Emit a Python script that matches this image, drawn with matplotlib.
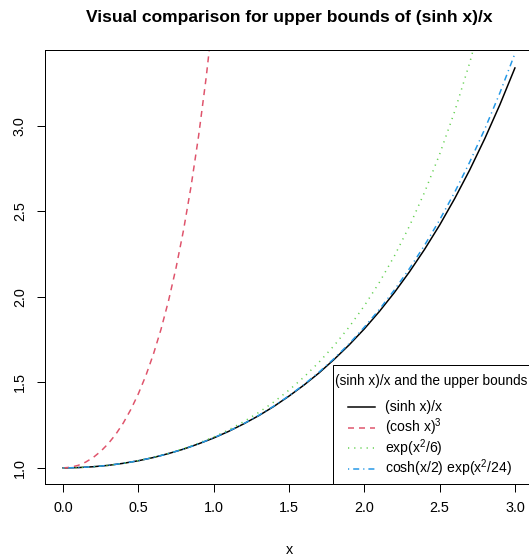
import matplotlib
matplotlib.use("Agg")
import matplotlib.pyplot as plt
from matplotlib.lines import Line2D
from matplotlib.patches import Rectangle

plt.rcParams['font.family'] = ['Liberation Sans', 'DejaVu Sans']
plt.rcParams['mathtext.fontset'] = 'custom'
plt.rcParams['mathtext.rm'] = 'Liberation Sans'
plt.rcParams['mathtext.it'] = 'Liberation Sans'
plt.rcParams['lines.scale_dashes'] = False

# ---- data ----
x_main = [0.0, 0.1, 0.2, 0.3, 0.4, 0.5, 0.6, 0.7, 0.8, 0.9, 1.0, 1.1, 1.2, 1.3, 1.4, 1.5,
          1.6, 1.7, 1.8, 1.9, 2.0, 2.1, 2.2, 2.3, 2.4, 2.5, 2.6, 2.7, 2.8, 2.9, 3.0]
sinhx_over_x = [1.000, 1.002, 1.007, 1.015, 1.027, 1.042, 1.061, 1.084, 1.110, 1.141, 1.175,
                1.214, 1.258, 1.306, 1.360, 1.420, 1.485, 1.556, 1.635, 1.720, 1.813,
                1.915, 2.026, 2.147, 2.278, 2.420, 2.575, 2.743, 2.926, 3.124, 3.339]
exp_x2_6 = [1.000, 1.002, 1.007, 1.015, 1.027, 1.043, 1.062, 1.085, 1.113, 1.145, 1.181,
            1.223, 1.271, 1.325, 1.386, 1.455, 1.532, 1.619, 1.716, 1.825, 1.948,
            2.085, 2.240, 2.415, 2.612, 2.834, 3.085, 3.370, 3.694, 4.062, 4.482]
cosh_half_exp = [1.000, 1.002, 1.007, 1.015, 1.027, 1.042, 1.061, 1.084, 1.110, 1.141, 1.176,
                 1.215, 1.259, 1.308, 1.362, 1.422, 1.488, 1.561, 1.640, 1.727, 1.823,
                 1.927, 2.041, 2.166, 2.302, 2.450, 2.612, 2.789, 2.982, 3.193, 3.423]
x_cosh3 = [0.0, 0.05, 0.1, 0.15, 0.2, 0.25, 0.3, 0.35, 0.4, 0.45, 0.5, 0.55, 0.6, 0.65,
           0.7, 0.75, 0.8, 0.85, 0.9, 0.95, 1.0]
cosh_cubed = [1.000, 1.004, 1.015, 1.034, 1.061, 1.097, 1.142, 1.197, 1.263, 1.342, 1.434,
              1.541, 1.666, 1.810, 1.977, 2.170, 2.392, 2.648, 2.943, 3.283, 3.674]

legend_title = "(sinh x)/x and the upper bounds"
legend_labels = ["(sinh x)/x", r"(cosh x)$^\mathrm{3}$", r"exp(x$^\mathrm{2}$/6)",
                 r"cosh(x/2) exp(x$^\mathrm{2}$/24)"]
x_ticks = [0.0, 0.5, 1.0, 1.5, 2.0, 2.5, 3.0]
y_ticks = [1.0, 1.5, 2.0, 2.5, 3.0]

# ---- figure ----
W, H = 529, 557
fig = plt.figure(figsize=(W / 72, H / 72), dpi=72)

def fx(px):
    return px / W

def fy(py):
    return 1 - py / H

L, R, T, B = 45, 533, 50, 484
ax = fig.add_axes([fx(L), fy(B), fx(R) - fx(L), fy(T) - fy(B)])

red = "#DF536B"
green = "#61D04F"
blue = "#2297E6"
lw = 1.5
styles = [
    dict(color="black", linestyle="-"),
    dict(color=red, dashes=(6, 5)),
    dict(color=green, dashes=(1.2, 5)),
    dict(color=blue, dashes=(1.2, 4, 6, 4)),
]

ax.plot(x_main, sinhx_over_x, lw=lw, **styles[0])
ax.plot(x_cosh3, cosh_cubed, lw=lw, **styles[1])
ax.plot(x_main, exp_x2_6, lw=lw, **styles[2])
ax.plot(x_main, cosh_half_exp, lw=lw, **styles[3])

ax.set_xlim(-0.12, 3.12)
ax.set_ylim(0.906, 3.444)
ax.set_xticks(x_ticks)
ax.set_xticklabels([f"{v:.1f}" for v in x_ticks])
ax.set_yticks(y_ticks)
ax.set_yticklabels([f"{v:.1f}" for v in y_ticks], rotation=90, va="center")
ax.tick_params(axis="both", direction="out", length=8, width=1, labelsize=14.4,
               colors="black")
ax.tick_params(axis="x", pad=9.5)
ax.tick_params(axis="y", pad=10)
for s in ax.spines.values():
    s.set_linewidth(1)
    s.set_color("black")

fig.text(fx(289), fy(22), "Visual comparison for upper bounds of (sinh x)/x",
         ha="center", va="baseline", fontsize=17.4, fontweight="bold")
fig.text(fx(289), fy(554), "x", ha="center", va="baseline", fontsize=14.4)

# ---- legend (R style) ----
lx0, ly0 = 333, 365
fig.add_artist(Rectangle((fx(lx0), fy(B)), fx(R + 10) - fx(lx0), fy(ly0) - fy(B),
                         transform=fig.transFigure, facecolor="white",
                         edgecolor="black", linewidth=1, zorder=5, clip_on=False))
fig.text(fx(335), fy(381.5), legend_title, ha="left", va="center", fontsize=13.6, zorder=6)
rows = [406.5, 427.5, 448, 468.5]
for (st, lab, ry) in zip(styles, legend_labels, rows):
    fig.add_artist(Line2D([fx(348), fx(375)], [fy(ry), fy(ry)], transform=fig.transFigure,
                          lw=lw, zorder=6, **st))
    fig.text(fx(385), fy(ry), lab, ha="left", va="center", fontsize=14, zorder=6)

fig.savefig("out.png", dpi=72)
